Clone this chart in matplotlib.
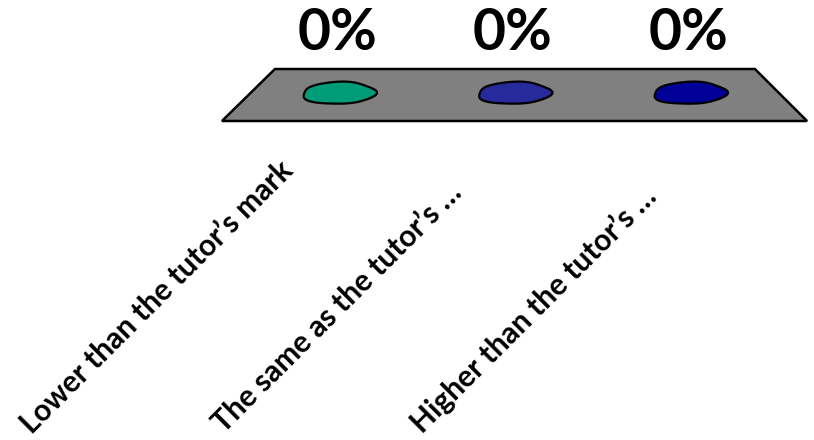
import matplotlib
matplotlib.use('Agg')
import matplotlib.pyplot as plt
import numpy as np
from matplotlib.patches import Polygon

categories = ['Lower than the tutor\u2019s mark',
              'The same as the tutor\u2019s \u2026',
              'Higher than the tutor\u2019s \u2026']
values = [0, 0, 0]
colors = ['#009b77', '#262a9a', '#000099']

W, H = 814, 440
# pixel layout of the category axis
CAT0_PX = 339.0
CAT_STEP_PX = 175.5
FLOOR_Y = 93.0


def blob(cx, cy, w, h):
    # wobbly ellipse outline for a zero-height bar
    t = np.linspace(0, 2*np.pi, 200)
    r = 1 + 0.035*np.sin(3*t + 0.5) + 0.025*np.cos(5*t)
    x = cx + w/2*r*np.cos(t)
    y = cy + h/2*r*np.sin(t) - 0.04*h*np.cos(t)
    return np.column_stack([x, y])


def main():
    plt.rcParams['font.family'] = ['Lato', 'DejaVu Sans']
    fig = plt.figure(figsize=(W/100, H/100), dpi=100)
    ax = fig.add_axes([0, 0, 1, 1])
    ax.set_xlim(-CAT0_PX/CAT_STEP_PX, (W - CAT0_PX)/CAT_STEP_PX)
    ax.set_ylim(H, 0)
    ax.axis('off')

    n = len(categories)
    # perspective floor
    floor = Polygon([(-0.667, 121), (n - 1 + 0.667, 121),
                     (n - 1 + 0.37, 69), (-0.365, 69)],
                    closed=True, facecolor='#808080', edgecolor='black',
                    lw=1.8, zorder=1)
    ax.add_patch(floor)

    for i, (v, c) in enumerate(zip(values, colors)):
        pts = blob(i, FLOOR_Y - v, 0.415, 22)
        ax.add_patch(Polygon(pts, closed=True, facecolor=c,
                             edgecolor='black', lw=1.6, zorder=2))
        ax.text(i - 0.01, 34, '{0:.0f}%'.format(v), ha='center',
                va='center', fontsize=41, fontweight='bold', color='black')

    starts = [(32, 435), (224, 434), (422, 434)]
    for (sx, sy), label in zip(starts, categories):
        fig.text(sx/W, 1 - sy/H, label, rotation=45, rotation_mode='anchor',
                 ha='left', va='baseline', fontsize=21.5, fontweight='bold')

    fig.savefig('out.png', dpi=100)


if __name__ == '__main__':
    main()
